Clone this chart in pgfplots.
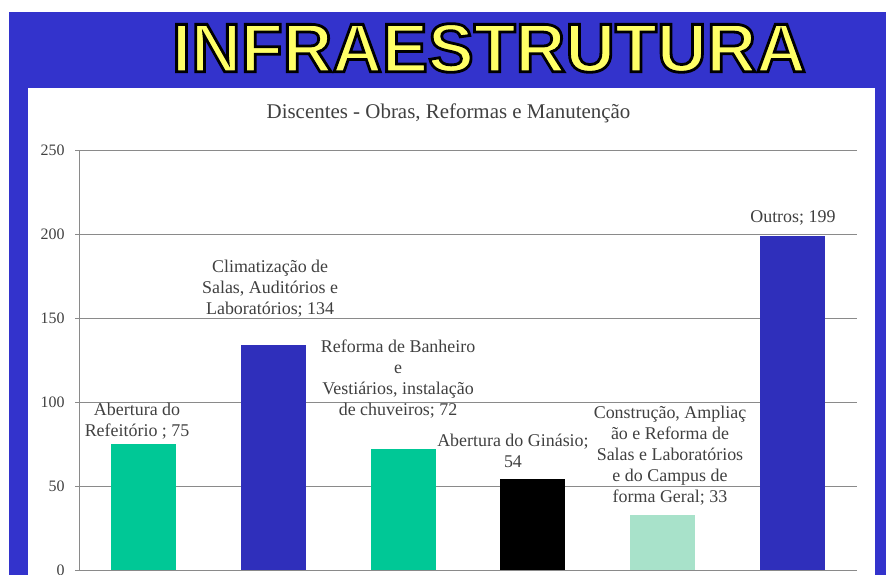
\documentclass[border=0pt]{standalone}
\usepackage{fontspec}
\setmainfont{Liberation Serif}
\newfontfamily\arial{Liberation Sans}
\usepackage{pgfplots}
\pgfplotsset{compat=1.18}
\definecolor{bgblue}{HTML}{3333CC}
\definecolor{barblue}{HTML}{2F2FBB}
\definecolor{tealA}{HTML}{00C896}
\definecolor{tealB}{HTML}{A8E2CA}
\definecolor{txtgray}{HTML}{404040}
\definecolor{gridgray}{HTML}{8A8A8A}
\definecolor{ttlyellow}{HTML}{FFFF66}
\newcommand\lbl{\fontsize{18}{21}\selectfont}
\begin{document}
\begin{tikzpicture}[x=1bp,y=1bp]
\path[use as bounding box] (0,0) rectangle (886,575);
\clip (0,0) rectangle (886,575);
\fill[white] (0,0) rectangle (886,575);
\fill[bgblue] (9,0) rectangle (886,563);
\fill[white] (28,0) rectangle (875,487);
% big title with black outline
\node[font=\arial\bfseries\fontsize{69}{69}\selectfont] at (489,527) {\color{ttlyellow}\special{pdf:literal direct 0 0 0 RG 2.8 w 2 Tr}INFRAESTRUTURA\special{pdf:literal direct 0 Tr}};
% chart title
\node[font=\fontsize{21}{21}\selectfont, text=txtgray] at (448.5,462) {Discentes - Obras, Reformas e Manutenção};
\begin{axis}[
  scale only axis, width=778bp, height=420bp,
  at={(61,3)}, anchor=south west,
  xmin=-0.5, xmax=5.5, ymin=0, ymax=250,
  xtick=\empty, ytick={0,50,100,150,200,250},
  ymajorgrids, major grid style={gridgray, line width=0.8bp},
  axis x line*=bottom, axis y line*=left,
  axis line style={gridgray, line width=0.8bp, -},
  tick align=outside, major tick length=4bp, tick style={gridgray, line width=0.8bp},
  yticklabel style={font=\fontsize{16}{16}\selectfont, text=txtgray, xshift=-7bp},
  /pgf/number format/assume math mode=true,
  ybar, bar width=65bp, /pgf/bar shift=0pt,
  clip=false,
]
\addplot[fill=tealA, draw=none] coordinates {(0,75)};
\addplot[fill=barblue, draw=none] coordinates {(1,134)};
\addplot[fill=tealA, draw=none] coordinates {(2,72)};
\addplot[fill=black, draw=none] coordinates {(3,54)};
\addplot[fill=tealB, draw=none] coordinates {(4,33)};
\addplot[fill=barblue, draw=none] coordinates {(5,199)};
\node[align=center, font=\lbl, text=txtgray] at (axis cs:-0.053,88.4) {Abertura do\\Refeitório ; 75};
\node[align=center, font=\lbl, text=txtgray] at (axis cs:0.973,167.3) {Climatização de\\Salas, Auditórios e\\Laboratórios; 134};
\node[align=center, font=\lbl, text=txtgray] at (axis cs:1.96,113.7) {Reforma de Banheiro\\e\\Vestiários, instalação\\de chuveiros; 72};
\node[align=center, font=\lbl, text=txtgray] at (axis cs:2.846,70.8) {Abertura do Ginásio;\\54};
\node[align=center, font=\lbl, text=txtgray] at (axis cs:4.057,68.2) {Construção, Ampliaç\\ão e Reforma de\\Salas e Laboratórios\\e do Campus de\\forma Geral; 33};
\node[align=center, font=\lbl, text=txtgray] at (axis cs:5.005,209.5) {Outros; 199};
\end{axis}
\end{tikzpicture}
\end{document}
